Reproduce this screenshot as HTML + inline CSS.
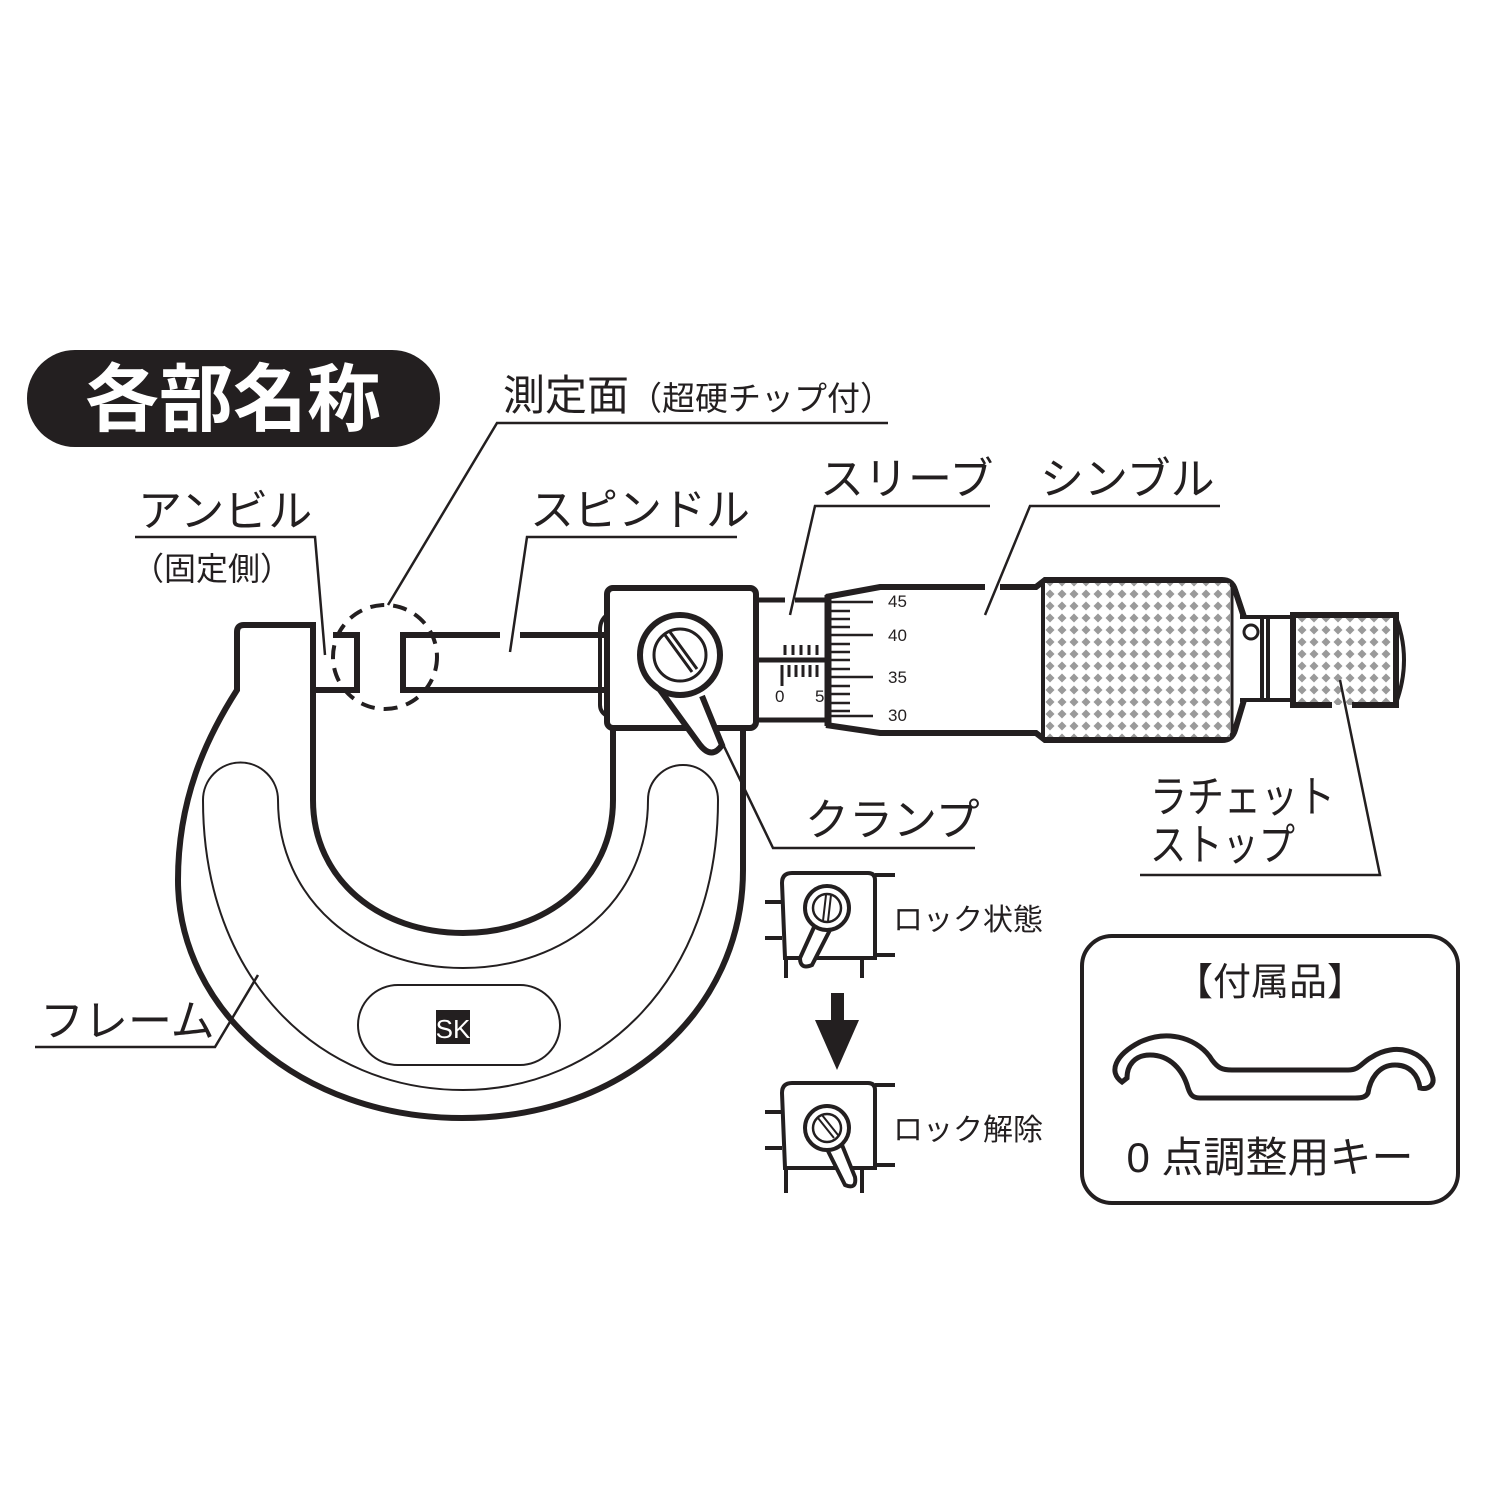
<!DOCTYPE html>
<html><head><meta charset="utf-8"><style>
html,body{margin:0;padding:0;background:#fff;}
svg{display:block;}
text{font-family:"Liberation Sans","Noto Sans CJK JP",sans-serif;fill:#231f20;}
</style></head><body>
<svg width="1500" height="1500" viewBox="0 0 1500 1500" xmlns="http://www.w3.org/2000/svg">
<defs>
<pattern id="kn" width="12" height="12" patternUnits="userSpaceOnUse">
<rect width="12" height="12" fill="#fff"/>
<path d="M6,1.5 L10.5,6 L6,10.5 L1.5,6Z" fill="#9a9a9a"/>
</pattern>
</defs>
<rect width="1500" height="1500" fill="#fff"/>

<rect x="27" y="350" width="413" height="97" rx="48" fill="#231f20"/>
<text x="233" y="425" font-size="74" font-weight="bold" text-anchor="middle" style="fill:#fff">各部名称</text>

<g stroke="#231f20" fill="none">
<path d="M313,690 V625 H244 Q237,625 237,632 V690 C205,740 178,800 178,880 C178,1010 300,1118 462,1118 C625,1118 743,1010 743,870 V728" stroke-width="6"/>
<path d="M313,690 V800 C313,880 380,933 463,933 C546,933 613,880 613,800 V728" stroke-width="6"/>
<path d="M313,690 H345" stroke-width="6"/>
<path d="M278,800 C278,900 360,968 463,968 C566,968 648,900 648,800 A35,35 0 0 1 718,800 C718,980 600,1090 463,1090 C320,1090 203,980 203,800 A37.5,37.5 0 0 1 278,800 Z" stroke-width="2"/>
<rect x="358" y="985" width="202" height="80" rx="40" stroke-width="2"/>
<path d="M333,635 H357 V690 H345" stroke-width="6"/>
<path d="M500,635 H403 V690 H607" stroke-width="6"/>
<path d="M520,635 H607" stroke-width="6"/>
<circle cx="385" cy="657" r="52" stroke-width="4" stroke-dasharray="14,9"/>
<path d="M607,615 Q600,620 600,630 V705 Q600,712 607,716" stroke-width="4"/>
<rect x="607" y="588" width="149" height="140" rx="6" stroke-width="6"/>
<path d="M660,690 L700,745 Q712,760 722,745 L702,696" stroke-width="6" fill="#fff"/>
<circle cx="680" cy="655" r="40" stroke-width="6" fill="#fff"/>
<circle cx="680" cy="655" r="26" stroke-width="3"/>
<path d="M665,635 L692,672 M670,632 L697,669" stroke-width="3"/>
<path d="M756,600 H785 M795,600 H826 M756,720 H826 M756,660 H826" stroke-width="5"/>
<path d="M785,645 V655 M793,645 V655 M801,645 V655 M809,645 V655 M817,645 V655" stroke-width="3"/>
<path d="M782,665 V686 M789,665 V677 M796,665 V677 M803,665 V677 M810,665 V677 M817,665 V677" stroke-width="3"/>
<path d="M826,597 L880,587 H985 M1000,587 H1036 L1045,580 H1222 Q1232,580 1235,590 L1244,617 M826,725 L880,733 H1036 L1045,740 H1222 Q1232,740 1235,730 L1244,700" stroke-width="6"/>
<path d="M828,595 V726" stroke-width="7"/>
<path d="M830,602 H873 M830,611 H850 M830,619 H850 M830,627 H850 M830,635 H873 M830,644 H850 M830,652 H850 M830,660 H850 M830,669 H850 M830,677 H873 M830,686 H850 M830,694 H850 M830,703 H850 M830,711 H850 M830,716 H873" stroke-width="2.5"/>
<rect x="1045" y="583" width="185" height="154" fill="url(#kn)" stroke="none"/>
<path d="M1043,583 V737" stroke-width="4"/>
<path d="M1232,585 V735" stroke-width="3"/>
<path d="M1240,617 H1295 M1240,700 H1295 M1262,617 V700 M1268,617 V700" stroke-width="4"/>
<circle cx="1251" cy="632" r="7" stroke-width="3"/>
<rect x="1293" y="615" width="103" height="90" fill="url(#kn)" stroke="none"/>
<path d="M1340,615 H1293 V705 H1332 M1352,705 H1396 V615 H1340" stroke-width="6"/>
<path d="M1396,617 Q1412,660 1396,703" stroke-width="4"/>

<g stroke-width="2.5">
<path d="M135,537 H315 L325,655"/>
<path d="M888,423 H497 L388,605"/>
<path d="M737,537 H527 L510,652"/>
<path d="M990,506 H815 L790,615"/>
<path d="M1220,506 H1030 L985,615"/>
<path d="M975,848 H773 L720,738"/>
<path d="M1140,875 H1380 L1340,680"/>
<path d="M35,1047 H215 L258,975"/>
</g>

<g stroke-width="4">
<path d="M765,902 H782 M765,938 H782 M875,875 H895 M875,955 H895 M786,958 V978 M862,958 V978"/>
<path d="M782,883 Q782,873 792,873 H868 Q875,873 875,880 V958 H785 Z" fill="#fff"/>
<path d="M815,925 L800,958 Q800,970 812,965 L830,930" fill="#fff"/>
<circle cx="827" cy="908" r="22" fill="#fff"/>
<circle cx="827" cy="908" r="14" stroke-width="2.5"/>
<path d="M826,895 L823,921 M831,895 L828,921" stroke-width="2"/>
</g>
<rect x="831" y="993" width="13" height="28" fill="#231f20" stroke="none"/>
<path d="M815,1020 H859 L837,1070Z" fill="#231f20" stroke="none"/>
<g stroke-width="4">
<path d="M765,1112 H782 M765,1148 H782 M875,1085 H895 M875,1165 H895 M786,1168 V1193 M862,1168 V1193"/>
<path d="M782,1093 Q782,1083 792,1083 H868 Q875,1083 875,1090 V1168 H785 Z" fill="#fff"/>
<path d="M825,1145 L845,1185 Q857,1190 855,1177 L840,1140" fill="#fff"/>
<circle cx="827" cy="1128" r="22" fill="#fff"/>
<circle cx="827" cy="1128" r="14" stroke-width="2.5"/>
<path d="M818,1118 L834,1138 M822,1115 L838,1135" stroke-width="2"/>
</g>

<rect x="1082" y="936" width="376" height="267" rx="30" stroke-width="4"/>
<path d="M1122,1082 C1108,1072 1115,1055 1140,1042 C1170,1028 1200,1040 1212,1060 C1218,1068 1222,1070 1232,1070 H1348 C1360,1070 1362,1062 1372,1057 C1395,1042 1425,1050 1432,1075 C1436,1085 1428,1090 1420,1088 C1418,1075 1410,1065 1395,1065 C1378,1065 1370,1080 1368,1093 C1366,1097 1362,1098 1355,1098 H1200 C1192,1098 1190,1094 1188,1088 C1183,1070 1170,1055 1150,1055 C1135,1055 1127,1065 1127,1078 Z" stroke-width="5" fill="#fff"/>
</g>

<rect x="436" y="1010" width="34" height="34" fill="#231f20"/>
<text x="453" y="1038" font-size="26" text-anchor="middle" style="fill:#fff">SK</text>

<text x="503" y="410" font-size="42">測定面<tspan font-size="33">（超硬チップ付）</tspan></text>
<text x="138" y="526" font-size="44">アンビル</text>
<text x="132" y="580" font-size="32">（固定側）</text>
<text x="530" y="525" font-size="44">スピンドル</text>
<text x="820" y="494" font-size="44">スリーブ</text>
<text x="1040" y="494" font-size="44">シンブル</text>
<text x="805" y="835" font-size="44">クランプ</text>
<text x="1150" y="812" font-size="44" textLength="185" lengthAdjust="spacingAndGlyphs">ラチェット</text>
<text x="1150" y="860" font-size="44" textLength="145" lengthAdjust="spacingAndGlyphs">ストップ</text>
<text x="40" y="1036" font-size="44">フレーム</text>
<text x="893" y="930" font-size="30">ロック状態</text>
<text x="893" y="1140" font-size="30">ロック解除</text>
<text x="1270" y="995" font-size="38" text-anchor="middle">【付属品】</text>
<text x="1270" y="1172" font-size="42" text-anchor="middle">0 点調整用キー</text>
<g font-size="17">
<text x="888" y="607">45</text>
<text x="888" y="641">40</text>
<text x="888" y="683">35</text>
<text x="888" y="721">30</text>
<text x="775" y="702">0</text>
<text x="815" y="702">5</text>
</g>
</svg>
</body></html>
